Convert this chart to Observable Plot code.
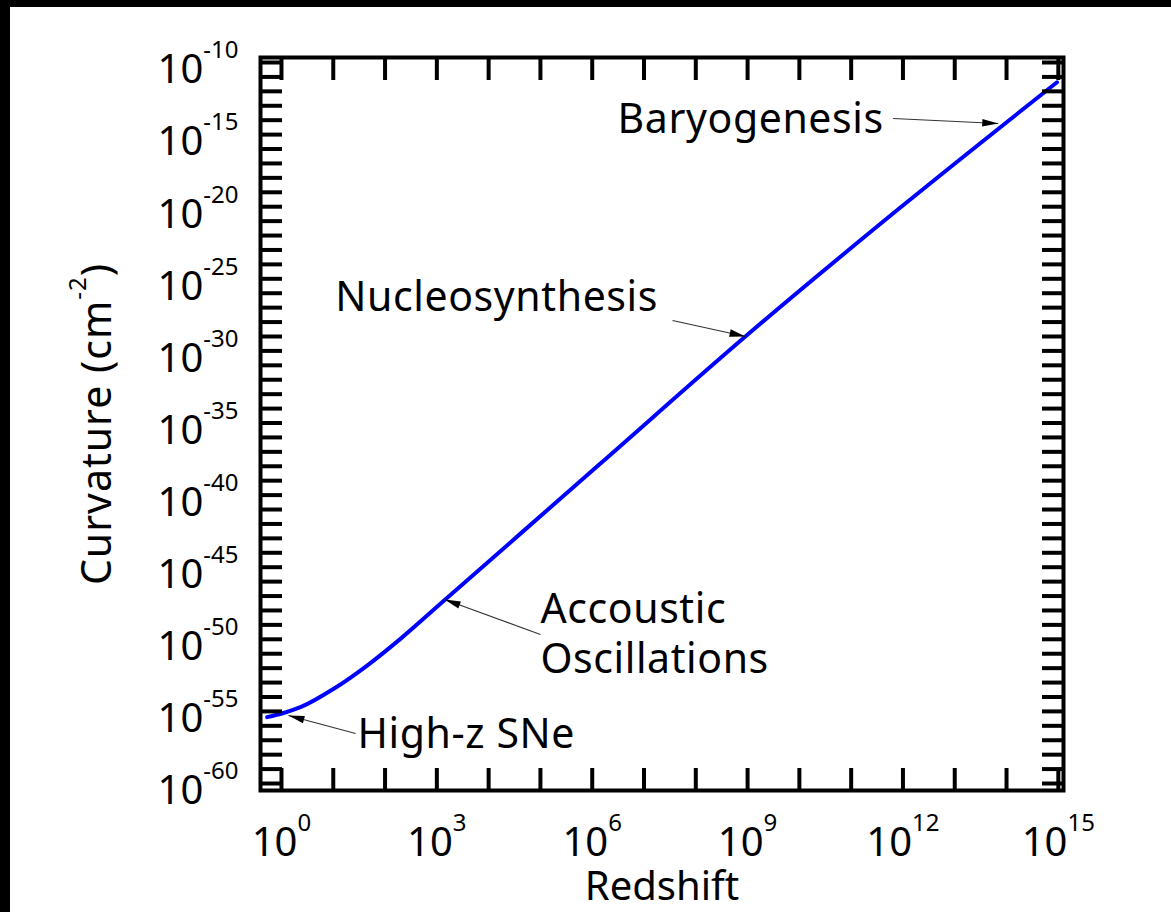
<!DOCTYPE html>
<html><head><meta charset="utf-8">
<script src="https://cdn.jsdelivr.net/npm/d3@7"></script>
<script src="https://cdn.jsdelivr.net/npm/@observablehq/plot@0.6"></script>
<style>
html,body{margin:0;padding:0;background:#000;width:1171px;height:912px;overflow:hidden}
#panel{position:absolute;left:10px;top:7px;width:1161px;height:905px;background:#fff}
svg{display:block}
</style></head><body><div id="panel"></div>
<script>
// ---- data (log10 values) ----
const logRedshift  = [-0.276, 0.039, 0.367, 1.010, 1.654, 2.297, 3.069, 6.158, 8.958, 11.950, 14.975];
const logCurvature = [-55.40, -55.11, -54.71, -53.43, -51.82, -49.97, -47.54, -37.81, -29.00, -20.06, -11.37];

const xLabelExponents = [0, 3, 6, 9, 12, 15];
const yLabelExponents = [-10, -15, -20, -25, -30, -35, -40, -45, -50, -55, -60];
const xTickExponents = d3.range(0, 16);
const yTickExponents = d3.range(-60, -9);

const xAxisTitle = "Redshift";
const yAxisTitle = "Curvature (cm^-2^)";

const noteText = ["Baryogenesis", "Nucleosynthesis", "Accoustic\nOscillations", "High-z SNe"];
const noteLogZ = [6.49, 1.04, 5.00, 1.47];
const noteLogK = [-14.92, -27.20, -52.37, -57.57];

const arrowFromLogZ = [11.81, 7.55, 5.00, 1.43];
const arrowFromLogK = [-13.88, -27.89, -49.67, -56.53];
const arrowToLogZ   = [13.84, 8.96, 3.15, 0.135];
const arrowToLogK   = [-14.23, -29.00, -47.24, -55.28];

// ---- tables built from the arrays ----
const curve = logRedshift.map((lz, i) => ({z: 10 ** lz, k: 10 ** logCurvature[i]}));
const notes = noteText.map((t, i) => ({t, z: 10 ** noteLogZ[i], k: 10 ** noteLogK[i]}));
const arrows = arrowFromLogZ.map((_, i) => ({
  z1: 10 ** arrowFromLogZ[i], k1: 10 ** arrowFromLogK[i],
  z2: 10 ** arrowToLogZ[i], k2: 10 ** arrowToLogK[i]
}));
const pow = e => 10 ** e;
const fmtPow = d => "10^" + Math.round(Math.log10(d));

const FONT = "'Noto Sans', 'DejaVu Sans', sans-serif";
const FS = 40;
const NOTE_FS = 41;

const chart = Plot.plot({
  width: 1161, height: 905,
  marginLeft: 250, marginRight: 108, marginTop: 50, marginBottom: 122,
  style: {fontFamily: FONT, fontSize: FS + "px", color: "#000", background: "#fff", overflow: "visible"},
  x: {type: "log", domain: [10 ** -0.405, 10 ** 15.1], label: null},
  y: {type: "log", domain: [10 ** -60.485, 10 ** -9.653], label: null},
  marks: [
    Plot.line(curve, {x: "z", y: "k", stroke: "#0000ff", strokeWidth: 4, curve: "monotone-x"}),
    Plot.link(arrows, {x1: "z1", y1: "k1", x2: "z2", y2: "k2", stroke: "#333", strokeWidth: 1.1, markerEnd: "arrow"}),
    Plot.text(notes, {x: "z", y: "k", text: "t", textAnchor: "start", lineAnchor: "bottom", lineHeight: 1.22, fontSize: NOTE_FS, fill: "#000", className: "note"}),
    // inward ticks on all four sides
    Plot.axisX(xTickExponents.map(pow), {anchor: "bottom", tickSize: -22, strokeWidth: 4, tickFormat: () => "", label: null}),
    Plot.axisX(xTickExponents.map(pow), {anchor: "top", tickSize: -22, strokeWidth: 4, tickFormat: () => "", label: null}),
    Plot.axisY(yTickExponents.map(pow), {anchor: "left", tickSize: -22, strokeWidth: 4, tickFormat: () => "", label: null}),
    Plot.axisY(yTickExponents.map(pow), {anchor: "right", tickSize: -22, strokeWidth: 4, tickFormat: () => "", label: null}),
    // tick labels
    Plot.axisX(xLabelExponents.map(pow), {anchor: "bottom", tickSize: 0, tickPadding: 37, tickFormat: fmtPow, fontSize: FS, label: null}),
    Plot.axisY(yLabelExponents.map(pow), {anchor: "left", tickSize: 0, tickPadding: 22, dy: 8, tickFormat: fmtPow, fontSize: FS, label: null}),
    // axis titles
    Plot.text([xAxisTitle], {text: d => d, frameAnchor: "bottom", dy: 109, lineAnchor: "bottom", textAnchor: "middle", fontSize: FS}),
    Plot.text([yAxisTitle], {text: d => d, frameAnchor: "left", dx: -150, rotate: -90, lineAnchor: "bottom", textAnchor: "middle", fontSize: NOTE_FS, className: "ytitle"}),
    Plot.frame({stroke: "#000", strokeWidth: 4})
  ]
});

d3.select(chart).selectAll(".note text").attr("letter-spacing", "0.6px");
d3.select(chart).selectAll(".ytitle text").attr("letter-spacing", "1px");

// superscripts: segments separated by "^" alternate normal / raised
const SUP = 24, RAISE = 25;
d3.select(chart).selectAll("text").each(function () {
  const s = this.textContent;
  if (!s.includes("^")) return;
  const parts = s.split("^");
  this.textContent = "";
  let raised = false;
  parts.forEach((p, i) => {
    const isSup = i % 2 === 1;
    const ts = document.createElementNS("http://www.w3.org/2000/svg", "tspan");
    if (isSup) { ts.setAttribute("font-size", SUP); ts.setAttribute("dy", -RAISE); raised = true; }
    else if (raised) { ts.setAttribute("dy", RAISE); raised = false; }
    ts.textContent = p;
    if (p.length) this.appendChild(ts);
  });
});

// filled arrowheads
d3.select(chart).selectAll("marker").each(function () {
  const m = d3.select(this);
  m.attr("viewBox", "-18 -9 18 18").attr("markerWidth", 18).attr("markerHeight", 18)
   .attr("markerUnits", "userSpaceOnUse").attr("fill", "#000").attr("stroke", "none");
  m.selectAll("*").remove();
  m.append("path").attr("d", "M0,0L-16,-3.8L-16,3.8Z");
});

document.getElementById("panel").appendChild(chart);
</script>
</body></html>
